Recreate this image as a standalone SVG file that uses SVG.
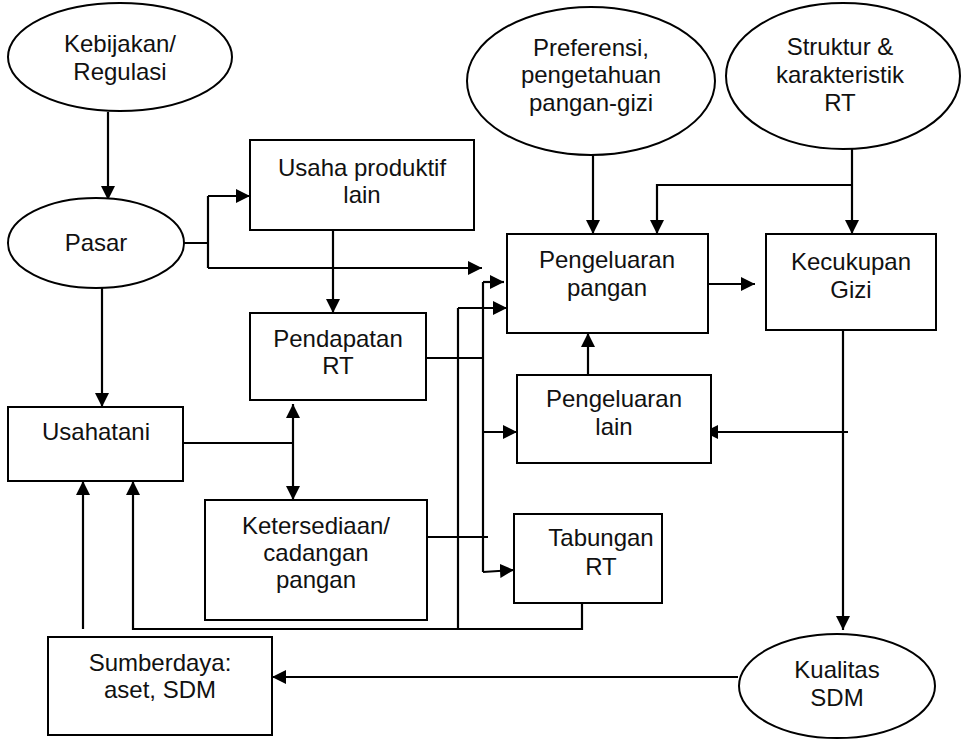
<svg xmlns="http://www.w3.org/2000/svg" width="965" height="740" viewBox="0 0 965 740">
<defs>
<marker id="ah" markerUnits="userSpaceOnUse" markerWidth="15" markerHeight="14" refX="14" refY="7" orient="auto-start-reverse">
<path d="M0,0 L14,7 L0,14 z" fill="#000"/>
</marker>
</defs>
<style>
.n{fill:#fff;stroke:#000;stroke-width:2}
.t{font-family:"Liberation Sans",Arial,sans-serif;font-size:24px;fill:#111;text-anchor:middle}
.c{fill:none;stroke:#000;stroke-width:2.2}
.a{marker-end:url(#ah)}
.thin{fill:none;stroke:#000;stroke-width:1.8}
</style>
<rect width="965" height="740" fill="#fff"/>
<g id="connectors">
<path class="c a" d="M108,112 V200"/>
<path class="c" d="M184,243 H208 M208,196 V268"/>
<path class="c a" d="M208,196 H250"/>
<path class="c a" d="M208,268 H482"/>
<path class="c a" d="M333,230 V313"/>
<path class="c a" d="M102,288 V407"/>
<path class="thin" d="M183,443 H293"/>
<path class="c a" d="M293,404 V500" style="marker-start:url(#ah)"/>
<path class="thin" d="M421,358 H484"/>
<path class="thin" d="M427,537 H488"/>
<path class="c" d="M483,282 V572"/>
<path class="c a" d="M483,282 H504"/>
<path class="c a" d="M483,432 H517"/>
<path class="c a" d="M483,572 L514,570"/>
<path class="c" d="M458,629 V308"/>
<path class="c a" d="M458,308 H507"/>
<path class="c a" d="M582,603 V629 H133 V481"/>
<path class="c a" d="M83,629 V481"/>
<path class="c a" d="M593,155 V234"/>
<path class="c a" d="M852,149 V234"/>
<path class="c a" d="M852,185 H657 V234"/>
<path class="c a" d="M708,284 H755"/>
<path class="c a" d="M588,375 V333"/>
<path class="c a" d="M843,331 V630"/>
<path class="c a" d="M848,432 H704"/>
<path class="c a" d="M738,677 H272"/>
</g>
<g id="kebijakan">
<ellipse class="n" cx="120" cy="57" rx="112" ry="54"/>
<text class="t" x="120" y="52">Kebijakan/</text>
<text class="t" x="120" y="80">Regulasi</text>
</g>
<g id="pasar">
<ellipse class="n" cx="96" cy="243" rx="88" ry="45"/>
<text class="t" x="96" y="251">Pasar</text>
</g>
<g id="usaha-produktif">
<rect class="n" x="250" y="140" width="224" height="90"/>
<text class="t" x="362" y="176">Usaha produktif</text>
<text class="t" x="362" y="203">lain</text>
</g>
<g id="pendapatan">
<rect class="n" x="250" y="313" width="176" height="87"/>
<text class="t" x="338" y="347">Pendapatan</text>
<text class="t" x="338" y="374">RT</text>
</g>
<g id="usahatani">
<rect class="n" x="8" y="407" width="175" height="74"/>
<text class="t" x="96" y="440">Usahatani</text>
</g>
<g id="ketersediaan">
<rect class="n" x="205" y="500" width="222" height="120"/>
<text class="t" x="316" y="534">Ketersediaan/</text>
<text class="t" x="316" y="561">cadangan</text>
<text class="t" x="316" y="588">pangan</text>
</g>
<g id="sumberdaya">
<rect class="n" x="48" y="637" width="224" height="98"/>
<text class="t" x="160" y="671">Sumberdaya:</text>
<text class="t" x="160" y="698">aset, SDM</text>
</g>
<g id="preferensi">
<ellipse class="n" cx="591" cy="81" rx="124" ry="74"/>
<text class="t" x="591" y="56">Preferensi,</text>
<text class="t" x="591" y="83">pengetahuan</text>
<text class="t" x="591" y="111">pangan-gizi</text>
</g>
<g id="struktur">
<ellipse class="n" cx="843" cy="76" rx="117" ry="73"/>
<text class="t" x="840" y="55">Struktur &amp;</text>
<text class="t" x="840" y="83">karakteristik</text>
<text class="t" x="840" y="111">RT</text>
</g>
<g id="pengeluaran-pangan">
<rect class="n" x="507" y="234" width="201" height="99"/>
<text class="t" x="607" y="268">Pengeluaran</text>
<text class="t" x="607" y="296">pangan</text>
</g>
<g id="kecukupan">
<rect class="n" x="766" y="234" width="170" height="96"/>
<text class="t" x="851" y="270">Kecukupan</text>
<text class="t" x="851" y="298">Gizi</text>
</g>
<g id="pengeluaran-lain">
<rect class="n" x="517" y="375" width="194" height="88"/>
<text class="t" x="614" y="407">Pengeluaran</text>
<text class="t" x="614" y="435">lain</text>
</g>
<g id="tabungan">
<rect class="n" x="514" y="514" width="148" height="89"/>
<text class="t" x="601" y="546">Tabungan</text>
<text class="t" x="601" y="575">RT</text>
</g>
<g id="kualitas">
<ellipse class="n" cx="837" cy="686" rx="98" ry="52"/>
<text class="t" x="837" y="678">Kualitas</text>
<text class="t" x="837" y="706">SDM</text>
</g>
</svg>
